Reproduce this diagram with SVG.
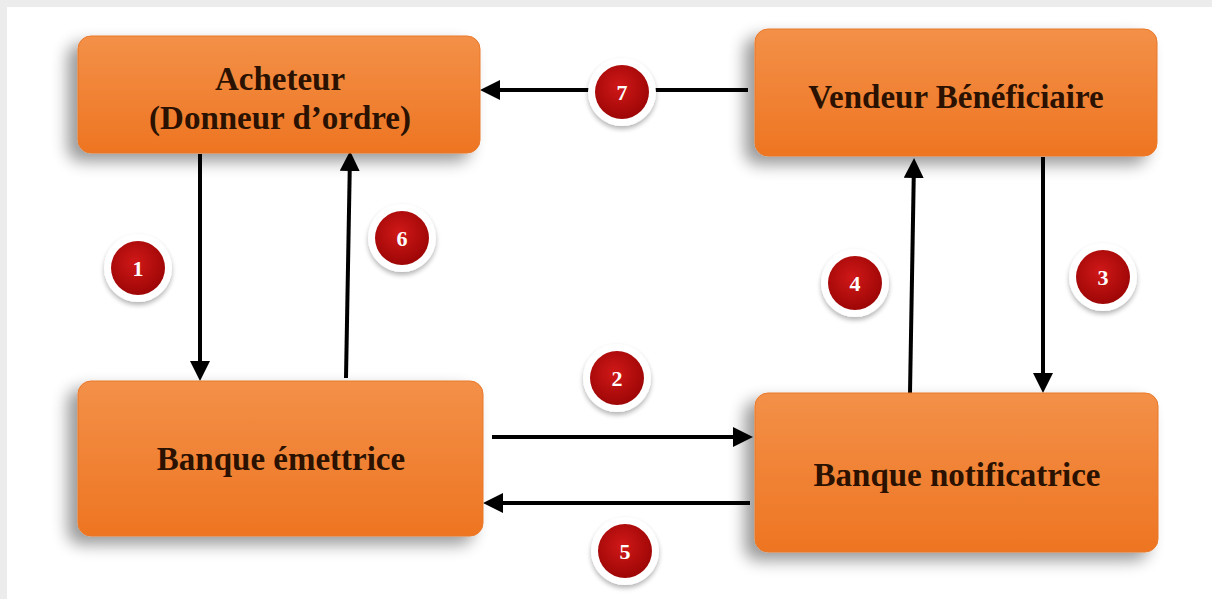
<svg xmlns="http://www.w3.org/2000/svg" width="1212" height="599" viewBox="0 0 1212 599">
  <style>
    .box { fill: url(#orange); stroke: #e8782a; stroke-width: 1; filter: url(#shadow); }
    .label { font-family: "Liberation Serif", "Times New Roman", serif; font-weight: bold; font-size: 33px; fill: #2a1100; text-anchor: middle; }
    .num { font-family: "Liberation Serif", "Times New Roman", serif; font-weight: bold; font-size: 22px; fill: #ffffff; text-anchor: middle; }
    .conn { stroke: #000; stroke-width: 4; fill: none; marker-end: url(#head); }
    .halo { fill: #ffffff; filter: url(#halo); }
    .badge { fill: url(#red); }
  </style>
  <defs>
    <linearGradient id="orange" x1="0" y1="0" x2="0" y2="1">
      <stop offset="0" stop-color="#f39048"/>
      <stop offset="1" stop-color="#ee7522"/>
    </linearGradient>
    <radialGradient id="red" cx="0.45" cy="0.4" r="0.6">
      <stop offset="0" stop-color="#d01818"/>
      <stop offset="1" stop-color="#9e0606"/>
    </radialGradient>
    <filter id="shadow" x="-10%" y="-20%" width="120%" height="150%">
      <feGaussianBlur in="SourceAlpha" stdDeviation="8"/>
      <feOffset dx="-10" dy="8" result="b"/>
      <feComponentTransfer><feFuncA type="linear" slope="0.4"/></feComponentTransfer>
      <feMerge><feMergeNode/><feMergeNode in="SourceGraphic"/></feMerge>
    </filter>
    <filter id="halo" x="-30%" y="-30%" width="160%" height="160%">
      <feGaussianBlur in="SourceAlpha" stdDeviation="2.5"/>
      <feOffset dx="0" dy="3"/>
      <feComponentTransfer><feFuncA type="linear" slope="0.3"/></feComponentTransfer>
      <feMerge><feMergeNode/><feMergeNode in="SourceGraphic"/></feMerge>
    </filter>
    <marker id="head" markerWidth="5" markerHeight="5" refX="4" refY="2.5" orient="auto" markerUnits="strokeWidth">
      <path d="M0,0 L5,2.5 L0,5 Z" fill="#000"/>
    </marker>
  </defs>

  <!-- page frame -->
  <rect x="0" y="0" width="1212" height="599" fill="#ececec"/>
  <rect x="7" y="7" width="1205" height="592" fill="#ffffff"/>

  <!-- connectors -->
  <g id="connectors">
    <line class="conn" x1="748" y1="90" x2="484" y2="90"/>
    <line class="conn" x1="200" y1="154" x2="200" y2="377"/>
    <line class="conn" x1="346" y1="378" x2="350" y2="155"/>
    <line class="conn" x1="492" y1="437" x2="749" y2="437"/>
    <line class="conn" x1="750" y1="503" x2="487" y2="503"/>
    <line class="conn" x1="910" y1="393" x2="914" y2="162"/>
    <line class="conn" x1="1043" y1="157" x2="1043" y2="389"/>
  </g>

  <!-- nodes -->
  <g id="acheteur">
    <rect class="box" x="78" y="36" width="402" height="117" rx="13"/>
    <text class="label" x="280" y="90">Acheteur</text>
    <text class="label" x="280" y="129">(Donneur d’ordre)</text>
  </g>
  <g id="vendeur">
    <rect class="box" x="755" y="29" width="402" height="127" rx="13"/>
    <text class="label" x="956" y="108">Vendeur Bénéficiaire</text>
  </g>
  <g id="banque-emettrice">
    <rect class="box" x="78" y="381" width="405" height="155" rx="13"/>
    <text class="label" x="281" y="470">Banque émettrice</text>
  </g>
  <g id="banque-notificatrice">
    <rect class="box" x="755" y="393" width="403" height="159" rx="13"/>
    <text class="label" x="957" y="486">Banque notificatrice</text>
  </g>

  <!-- step badges -->
  <g id="step-7"><circle class="halo" cx="622" cy="92" r="34"/><circle class="badge" cx="622" cy="92" r="27"/><text class="num" x="622" y="100">7</text></g>
  <g id="step-1"><circle class="halo" cx="138" cy="268" r="34"/><circle class="badge" cx="138" cy="268" r="27"/><text class="num" x="138" y="276">1</text></g>
  <g id="step-6"><circle class="halo" cx="402" cy="238" r="34"/><circle class="badge" cx="402" cy="238" r="27"/><text class="num" x="402" y="246">6</text></g>
  <g id="step-4"><circle class="halo" cx="855" cy="283" r="34"/><circle class="badge" cx="855" cy="283" r="27"/><text class="num" x="855" y="291">4</text></g>
  <g id="step-3"><circle class="halo" cx="1103" cy="277" r="34"/><circle class="badge" cx="1103" cy="277" r="27"/><text class="num" x="1103" y="285">3</text></g>
  <g id="step-2"><circle class="halo" cx="617" cy="378" r="34"/><circle class="badge" cx="617" cy="378" r="27"/><text class="num" x="617" y="386">2</text></g>
  <g id="step-5"><circle class="halo" cx="625" cy="551" r="34"/><circle class="badge" cx="625" cy="551" r="27"/><text class="num" x="625" y="559">5</text></g>
</svg>
